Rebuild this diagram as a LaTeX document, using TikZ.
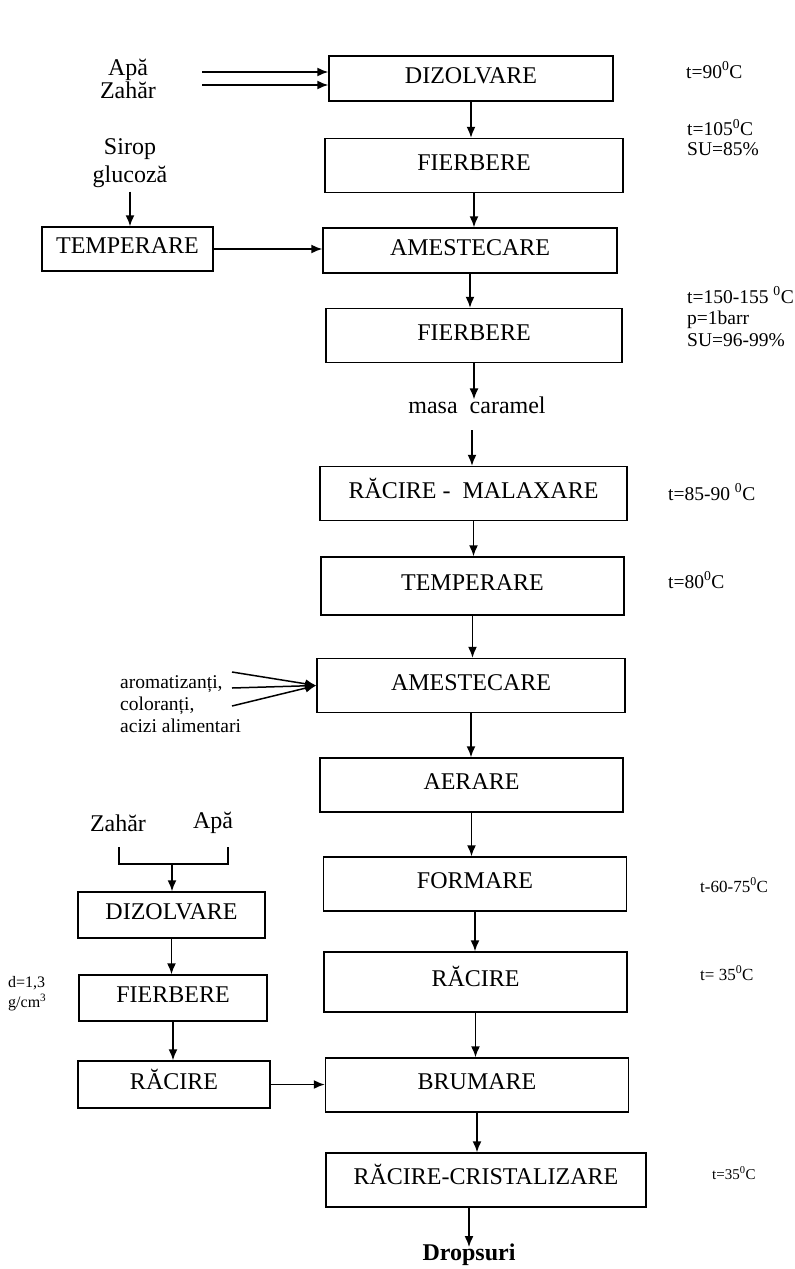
\documentclass[tikz,border=0pt]{standalone}
\usepackage{fontspec}
\setmainfont{Liberation Serif}
\usetikzlibrary{arrows.meta, positioning, calc}

\begin{document}
\begin{tikzpicture}[
  x=1pt, y=-1pt,
  procbox/.style={draw, line width=1.5pt, minimum width=303pt, minimum height=54pt,
    text height=17pt, text depth=8pt, inner sep=0pt,
    font=\fontsize{24}{28}\selectfont},
  sidebox/.style={procbox, minimum width=188pt, minimum height=46pt},
  cond/.style={anchor=west, align=left, inner sep=0pt,
    font=\fontsize{19.5}{19.5}\selectfont},
  feed/.style={align=center, inner sep=0pt, font=\fontsize{24}{27}\selectfont},
  flow/.style={->, line width=1.5pt},
  >={Latex[length=11pt, width=9pt]}
]
  \fill[white] (0,0) rectangle (795,1269);
  \useasboundingbox (0,0) rectangle (795,1269);

  % Main line
  \node[procbox, minimum width=284pt, minimum height=45pt] (diz) at (471,78.5) {DIZOLVARE};
  \node[procbox, minimum width=298pt] (fierb) at (474,165.5) {FIERBERE};
  \node[procbox, minimum width=294pt, minimum height=45pt] (amest) at (470,250.5) {AMESTECARE};
  \node[procbox, minimum width=296pt] (fierbb) at (474,335.5) {FIERBERE};
  \node[feed] (caramel) at (477,405) {masa\ \ caramel};
  \node[procbox, minimum width=307pt] (malax) at (473.5,493.5) {RĂCIRE -\ \ MALAXARE};
  \node[procbox, minimum height=58pt] (temp) at (472.5,586) {TEMPERARE};
  \node[procbox, minimum width=308pt] (amestb) at (471,685.5) {AMESTECARE};
  \node[procbox] (aer) at (471.5,785) {AERARE};
  \node[procbox] (form) at (475,884) {FORMARE};
  \node[procbox, minimum height=60pt] (rac) at (475.5,982) {RĂCIRE};
  \node[procbox] (brum) at (477,1085) {BRUMARE};
  \node[procbox, minimum width=320pt] (crist) at (486,1180) {RĂCIRE-CRISTALIZARE};
  \node[feed, anchor=north, font=\bfseries\fontsize{24}{27}\selectfont] (drops)
    at (469,1244) {Dropsuri};

  \foreach \a/\b in {diz/fierb, fierb/amest, amest/fierbb, malax/temp, temp/amestb,
    amestb/aer, aer/form, form/rac, rac/brum, brum/crist} {
    \draw[flow] (\a.south) -- (\a.south |- \b.north);
  }
  \draw[flow] (fierbb.south) -- ([yshift=-3pt]fierbb.south |- caramel.north);
  \coordinate (cfree) at (472,430);
  \draw[flow] (cfree) -- (cfree |- malax.north);
  \draw[flow] (drops.north |- crist.south) -- ([yshift=-3pt]drops.north);

  % Inputs, top
  \node[feed, font=\fontsize{24}{23}\selectfont] (apazah) at (128,79) {Apă\\Zahăr};
  \coordinate (apaIn) at (202,72);
  \coordinate (zahIn) at (202,85);
  \draw[flow] (apaIn) -- (apaIn -| diz.west);
  \draw[flow] (zahIn) -- (zahIn -| diz.west);

  \node[feed, font=\fontsize{24}{28}\selectfont] (sirop) at (130,163) {Sirop\\glucoză};
  \node[procbox, minimum width=171pt, minimum height=44pt] (tempL) at (127.5,249) {TEMPERARE};
  \draw[flow] ([yshift=-4pt]sirop.south) -- (sirop.south |- tempL.north);
  \draw[flow] (tempL.east) -- (tempL.east -| amest.west);

  % Additives
  \node[cond, font=\fontsize{19.5}{22}\selectfont] (arom) at (120,704)
    {aromatizanți,\\coloranți,\\acizi alimentari};
  \foreach \i/\y in {1/672, 2/688, 3/706} {
    \coordinate (ar\i) at (232,\y);
    \draw[flow] (ar\i) -- (amestb.west);
  }

  % Syrup line, bottom left
  \node[feed] (zahar) at (118,823) {Zahăr};
  \node[feed] (apa) at (213,823) {Apă};
  \coordinate (brL) at (119,847);
  \coordinate (brR) at (228,847);
  \coordinate (brM) at (172,864);
  \draw[line width=1.5pt] (brL) -- ++(0,17) -| (brR);
  \node[sidebox, minimum width=187pt] (diz2) at (171.5,915) {DIZOLVARE};
  \node[sidebox] (fierb2) at (173,998) {FIERBERE};
  \node[sidebox, minimum width=192pt, minimum height=47pt] (rac2) at (174,1084.5) {RĂCIRE};
  \draw[flow] (brM) -- (brM |- diz2.north);
  \draw[flow] (diz2.south) -- (diz2.south |- fierb2.north);
  \draw[flow] (fierb2.south) -- (fierb2.south |- rac2.north);
  \draw[flow] (rac2.east) -- (rac2.east -| brum.west);
  \node[cond, font=\fontsize{16}{20}\selectfont] (dens) at (8,994) {d=1,3\\g/cm\textsuperscript{3}};

  % Conditions
  \node[cond] (c1) at (686,70) {t=90\textsuperscript{0}C};
  \node[cond] (c2) at (687,137.5) {t=105\textsuperscript{0}C\\SU=85\%};
  \node[cond, font=\fontsize{19.5}{21.5}\selectfont] (c3) at (687,316.5)
    {t=150-155 \textsuperscript{0}C\\p=1barr\\SU=96-99\%};
  \node[cond] (c4) at (668,492) {t=85-90 \textsuperscript{0}C};
  \node[cond] (c5) at (668,580) {t=80\textsuperscript{0}C};
  \node[cond, font=\fontsize{17}{20}\selectfont] (c6) at (700,885) {t-60-75\textsuperscript{0}C};
  \node[cond, font=\fontsize{17}{20}\selectfont] (c7) at (700,973) {t= 35\textsuperscript{0}C};
  \node[cond, font=\fontsize{15}{18}\selectfont] (c8) at (712,1173) {t=35\textsuperscript{0}C};
\end{tikzpicture}
\end{document}
